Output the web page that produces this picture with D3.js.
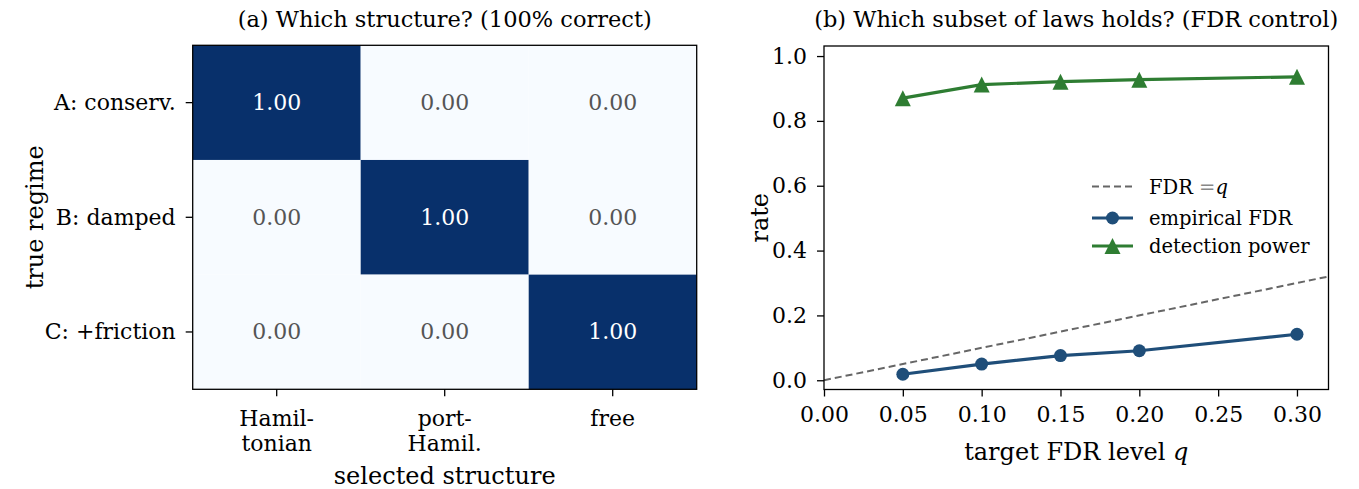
<!DOCTYPE html>
<html>
<head>
<meta charset="utf-8">
<script src="https://cdn.jsdelivr.net/npm/d3@7"></script>
<style>
  html, body { margin: 0; padding: 0; background: #fff; }
  svg { display: block; }
  text { font-family: "DejaVu Serif", serif; fill: #000; }
</style>
</head>
<body>
<svg id="fig" width="1359" height="489"></svg>
<script>
// Panel (a): structure-selection confusion matrix
const trueRegimes = ["A: conserv.", "B: damped", "C: +friction"];
const selectedStructures = [["Hamil-", "tonian"], ["port-", "Hamil."], ["free"]];
const confusion = [
  [1.00, 0.00, 0.00],
  [0.00, 1.00, 0.00],
  [0.00, 0.00, 1.00]
];

// Panel (b): FDR control sweep
const qLevels = [0.05, 0.10, 0.15, 0.20, 0.30];
const empiricalFDR = [0.0185, 0.050, 0.076, 0.091, 0.142];
const detectionPower = [0.870, 0.912, 0.921, 0.927, 0.936];
const xTicks = [0.00, 0.05, 0.10, 0.15, 0.20, 0.25, 0.30];
const yTicks = [0.0, 0.2, 0.4, 0.6, 0.8, 1.0];

const svg = d3.select("#fig");
const FS = 22;      // tick labels and cell annotations
const TFS = 22.5;   // panel titles
const LBL = 24;     // axis labels
const LFS = 19.5;   // legend

// ---------- Panel (a) ----------
const A = { left: 192.7, top: 45.3, width: 504, height: 344 };
const ga = svg.append("g");

const xa = d3.scaleBand().domain(d3.range(3)).range([A.left, A.left + A.width]);
const ya = d3.scaleBand().domain(d3.range(3)).range([A.top, A.top + A.height]);
const color = d3.scaleLinear().domain([0, 1]).range(["#f7fbff", "#08306b"]);

const cells = [];
confusion.forEach((row, i) => row.forEach((v, j) => cells.push({ i, j, v })));

ga.selectAll("rect.cell").data(cells).enter().append("rect")
  .attr("class", "cell")
  .attr("x", d => xa(d.j)).attr("y", d => ya(d.i))
  .attr("width", xa.bandwidth()).attr("height", ya.bandwidth())
  .attr("fill", d => color(d.v));

ga.selectAll("text.val").data(cells).enter().append("text")
  .attr("class", "val")
  .attr("x", d => xa(d.j) + xa.bandwidth() / 2)
  .attr("y", d => ya(d.i) + ya.bandwidth() / 2)
  .attr("text-anchor", "middle").attr("dominant-baseline", "central")
  .style("font-size", FS + "px")
  .style("fill", d => d.v > 0.5 ? "#ffffff" : "#555555")
  .text(d => d.v.toFixed(2));

ga.append("rect")
  .attr("x", A.left).attr("y", A.top).attr("width", A.width).attr("height", A.height)
  .attr("fill", "none").attr("stroke", "#000").attr("stroke-width", 1.3);

// y ticks
trueRegimes.forEach((lab, i) => {
  const y = ya(i) + ya.bandwidth() / 2;
  ga.append("line").attr("x1", A.left - 7).attr("x2", A.left).attr("y1", y).attr("y2", y)
    .attr("stroke", "#000").attr("stroke-width", 1.3);
  ga.append("text").attr("x", A.left - 17).attr("y", y)
    .attr("text-anchor", "end").attr("dominant-baseline", "central")
    .style("font-size", FS + "px").text(lab);
});
// x ticks
selectedStructures.forEach((lines, j) => {
  const x = xa(j) + xa.bandwidth() / 2;
  const y0 = A.top + A.height;
  ga.append("line").attr("x1", x).attr("x2", x).attr("y1", y0).attr("y2", y0 + 7)
    .attr("stroke", "#000").attr("stroke-width", 1.3);
  lines.forEach((ln, k) => {
    ga.append("text").attr("x", x).attr("y", 418 + k * 25)
      .attr("text-anchor", "middle").attr("dominant-baseline", "central")
      .style("font-size", FS + "px").text(ln);
  });
});
ga.append("text").attr("x", A.left + A.width / 2).attr("y", 476)
  .attr("text-anchor", "middle").attr("dominant-baseline", "central")
  .style("font-size", LBL + "px").text("selected structure");
ga.append("text")
  .attr("transform", `translate(35,${A.top + A.height / 2}) rotate(-90)`)
  .attr("text-anchor", "middle").attr("dominant-baseline", "central")
  .style("font-size", LBL + "px").text("true regime");
ga.append("text").attr("x", A.left + A.width / 2).attr("y", 19)
  .attr("text-anchor", "middle").attr("dominant-baseline", "central")
  .style("font-size", TFS + "px")
  .text("(a) Which structure? (100% correct)");

// ---------- Panel (b) ----------
const B = { left: 824, top: 46, right: 1328.5, bottom: 389.5 };
const gb = svg.append("g");
const xb = d3.scaleLinear().domain([0, 0.32]).range([B.left, B.right]);
const yb = d3.scaleLinear().domain([-0.0285, 1.031]).range([B.bottom, B.top]);

gb.append("defs").append("clipPath").attr("id", "clipB")
  .append("rect").attr("x", B.left).attr("y", B.top)
  .attr("width", B.right - B.left).attr("height", B.bottom - B.top);

const plot = gb.append("g").attr("clip-path", "url(#clipB)");

// reference line FDR = q
plot.append("line")
  .attr("x1", xb(0)).attr("y1", yb(0)).attr("x2", xb(0.32)).attr("y2", yb(0.32))
  .attr("stroke", "#666666").attr("stroke-width", 2).attr("stroke-dasharray", "7,4");

const line = d3.line().x(d => xb(d[0])).y(d => yb(d[1]));
const fdrPts = qLevels.map((q, i) => [q, empiricalFDR[i]]);
const powPts = qLevels.map((q, i) => [q, detectionPower[i]]);
const BLUE = "#1f4e79", GREEN = "#2e7d32";
// upward triangle marker, equal width and height
const TRI = "M0,-8L8,8L-8,8Z";

plot.append("path").datum(fdrPts).attr("d", line)
  .attr("fill", "none").attr("stroke", BLUE).attr("stroke-width", 3.2);
plot.selectAll("circle.fdr").data(fdrPts).enter().append("circle")
  .attr("cx", d => xb(d[0])).attr("cy", d => yb(d[1])).attr("r", 6.5).attr("fill", BLUE);

plot.append("path").datum(powPts).attr("d", line)
  .attr("fill", "none").attr("stroke", GREEN).attr("stroke-width", 3.2);
plot.selectAll("path.pow").data(powPts).enter().append("path")
  .attr("class", "pow")
  .attr("transform", d => `translate(${xb(d[0])},${yb(d[1])})`)
  .attr("d", TRI).attr("fill", GREEN);

// axes
const xAxis = d3.axisBottom(xb).tickValues(xTicks).tickFormat(d3.format(".2f")).tickSize(7).tickPadding(8);
const yAxis = d3.axisLeft(yb).tickValues(yTicks).tickFormat(d3.format(".1f")).tickSize(7).tickPadding(10);
const gx = gb.append("g").attr("transform", `translate(0,${B.bottom})`).call(xAxis);
const gy = gb.append("g").attr("transform", `translate(${B.left},0)`).call(yAxis);
[gx, gy].forEach(g => {
  g.select(".domain").remove();
  g.selectAll(".tick line").attr("stroke", "#000").attr("stroke-width", 1.3);
  g.selectAll(".tick text").style("font-size", FS + "px").style("font-family", "DejaVu Serif").attr("fill", "#000");
});
gx.selectAll(".tick text").attr("dy", "0.8em");

gb.append("rect")
  .attr("x", B.left).attr("y", B.top).attr("width", B.right - B.left).attr("height", B.bottom - B.top)
  .attr("fill", "none").attr("stroke", "#000").attr("stroke-width", 1.3);

// labels
const xl = gb.append("text").attr("x", (B.left + B.right) / 2).attr("y", 452)
  .attr("text-anchor", "middle").attr("dominant-baseline", "central")
  .style("font-size", LBL + "px");
xl.append("tspan").text("target FDR level ");
xl.append("tspan").style("font-style", "italic").text("q");
gb.append("text")
  .attr("transform", `translate(760,${(B.top + B.bottom) / 2}) rotate(-90)`)
  .attr("text-anchor", "middle").attr("dominant-baseline", "central")
  .style("font-size", LBL + "px").text("rate");
gb.append("text").attr("x", (B.left + B.right) / 2).attr("y", 19)
  .attr("text-anchor", "middle").attr("dominant-baseline", "central")
  .style("font-size", TFS + "px")
  .text("(b) Which subset of laws holds? (FDR control)");

// legend
const legend = gb.append("g");
const LX = 1092, LW = 41, TX = 1149;
const rows = [186.5, 218, 246];

legend.append("line").attr("x1", LX).attr("x2", LX + LW).attr("y1", rows[0]).attr("y2", rows[0])
  .attr("stroke", "#666666").attr("stroke-width", 2).attr("stroke-dasharray", "7,4");
const t0 = legend.append("text").attr("x", TX).attr("y", rows[0])
  .attr("dominant-baseline", "central").style("font-size", LFS + "px");
t0.append("tspan").text("FDR ");
t0.append("tspan").style("fill", "#888").text("=");
t0.append("tspan").style("font-style", "italic").text("q");

legend.append("line").attr("x1", LX).attr("x2", LX + LW).attr("y1", rows[1]).attr("y2", rows[1])
  .attr("stroke", BLUE).attr("stroke-width", 3.2);
legend.append("circle").attr("cx", LX + LW / 2).attr("cy", rows[1]).attr("r", 6.5).attr("fill", BLUE);
legend.append("text").attr("x", TX).attr("y", rows[1])
  .attr("dominant-baseline", "central").style("font-size", LFS + "px").text("empirical FDR");

legend.append("line").attr("x1", LX).attr("x2", LX + LW).attr("y1", rows[2]).attr("y2", rows[2])
  .attr("stroke", GREEN).attr("stroke-width", 3.2);
legend.append("path").attr("transform", `translate(${LX + LW / 2},${rows[2]})`)
  .attr("d", TRI).attr("fill", GREEN);
legend.append("text").attr("x", TX).attr("y", rows[2])
  .attr("dominant-baseline", "central").style("font-size", LFS + "px").text("detection power");
</script>
</body>
</html>
